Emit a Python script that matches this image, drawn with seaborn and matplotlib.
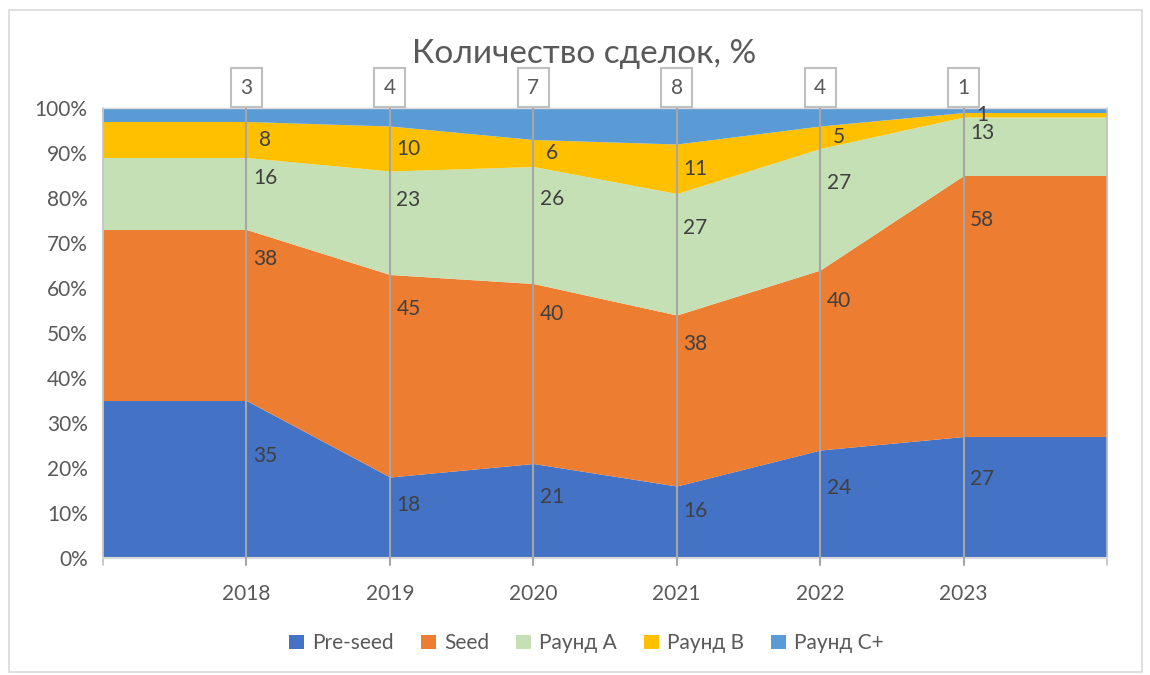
import numpy as np
import matplotlib
matplotlib.use("Agg")
import matplotlib.pyplot as plt
import matplotlib.transforms as mtransforms
from matplotlib.patches import Rectangle
import seaborn as sns

# data (share of deals, %)
years = [2018, 2019, 2020, 2021, 2022, 2023]
pre_seed = [35, 18, 21, 16, 24, 27]
seed = [38, 45, 40, 38, 40, 58]
round_a = [16, 23, 26, 27, 27, 13]
round_b = [8, 10, 6, 11, 5, 1]
round_c = [3, 4, 7, 8, 4, 1]
series_names = ["Pre-seed", "Seed", "Раунд A", "Раунд B", "Раунд C+"]
title = "Количество сделок, %"

colors = ["#4472C4", "#ED7D31", "#C5E0B4", "#FFC000", "#5B9BD5"]
grey = "#A6A6A6"
text_col = "#595959"
label_col = "#404040"
fs = 15

sns.set_theme(style="white")
plt.rcParams['font.family'] = ['Lato', 'DejaVu Sans']

fig = plt.figure(figsize=(11.5, 6.75), dpi=100)
ax = fig.add_axes([0.0896, 0.1733, 0.873, 0.6667])

# frame around whole chart
fig.patches.append(Rectangle((0.008, 0.004), 0.985, 0.981, transform=fig.transFigure,
                             fill=False, edgecolor="#D9D9D9", lw=1.2))

# area extends flat to the plot edges like in Excel
x = np.asarray(years, dtype=float)
x_ext = np.r_[x[0] - 1, x, x[-1] + 1]
data = [pre_seed, seed, round_a, round_b, round_c]
data_ext = [np.r_[v[0], v, v[-1]] for v in data]

ax.stackplot(x_ext, *data_ext, colors=colors, labels=series_names, lw=0)

ax.set_xlim(x_ext[0], x_ext[-1])
ax.set_ylim(0, 100)
ax.set_yticks(np.arange(0, 101, 10))
ax.set_yticklabels([f"{t}%" for t in range(0, 101, 10)])
ax.set_xticks(x_ext)
ax.set_xticklabels([""] + [str(y) for y in years] + [""])
ax.tick_params(axis="y", length=0, pad=11, labelsize=fs, labelcolor=text_col)
ax.tick_params(axis="x", length=0, pad=19, labelsize=fs, labelcolor=text_col)
for s in ax.spines.values():
    s.set_visible(False)

trans = mtransforms.blended_transform_factory(ax.transData, ax.transAxes)
# edge lines, axis line and top line
for xe in (x_ext[0], x_ext[-1]):
    ax.plot([xe, xe], [-0.016, 1.0], transform=trans, color="#BFBFBF", lw=1.2, clip_on=False, zorder=3)
ax.plot([x_ext[0], x_ext[-1]], [0, 0], transform=trans, color="#D9D9D9", lw=1.5, clip_on=False, zorder=3)
ax.plot([x_ext[0], x_ext[-1]], [1, 1], transform=trans, color="#D9D9D9", lw=1.0, clip_on=False, zorder=3)

# year lines with boxed labels on top (Раунд C+)
for xi, c in zip(x, round_c):
    ax.plot([xi, xi], [-0.016, 1.03], transform=trans, color=grey, lw=1.5, clip_on=False, zorder=3)
    ax.text(xi, 1.045, str(c), transform=trans, ha="center", va="center", fontsize=fs,
            color=text_col, zorder=5,
            bbox=dict(boxstyle="square,pad=0.45", fc="white", ec="#BFBFBF", lw=1.5))

# data labels inside areas
frac = [0.65, 0.83, 0.72, 0.5]
bottom = np.zeros(len(years))
for vals, f in zip(data[:4], frac):
    vals = np.asarray(vals, dtype=float)
    for xi, b, v in zip(x, bottom, vals):
        ax.text(xi + 0.13, b + f * v, f"{int(v)}", ha="center", va="center",
                fontsize=fs, color=label_col, zorder=4)
    bottom = bottom + vals

fig.text(0.508, 0.92, title, ha="center", va="center", fontsize=24, color=text_col)

handles, labels = ax.get_legend_handles_labels()
fig.legend(handles, labels, loc="center", bbox_to_anchor=(0.51, 0.047), ncol=5,
           frameon=False, fontsize=fs, labelcolor=text_col, handlelength=0.7,
           handleheight=0.7, handletextpad=0.4, columnspacing=1.3)

fig.savefig("out.png", dpi=100)
